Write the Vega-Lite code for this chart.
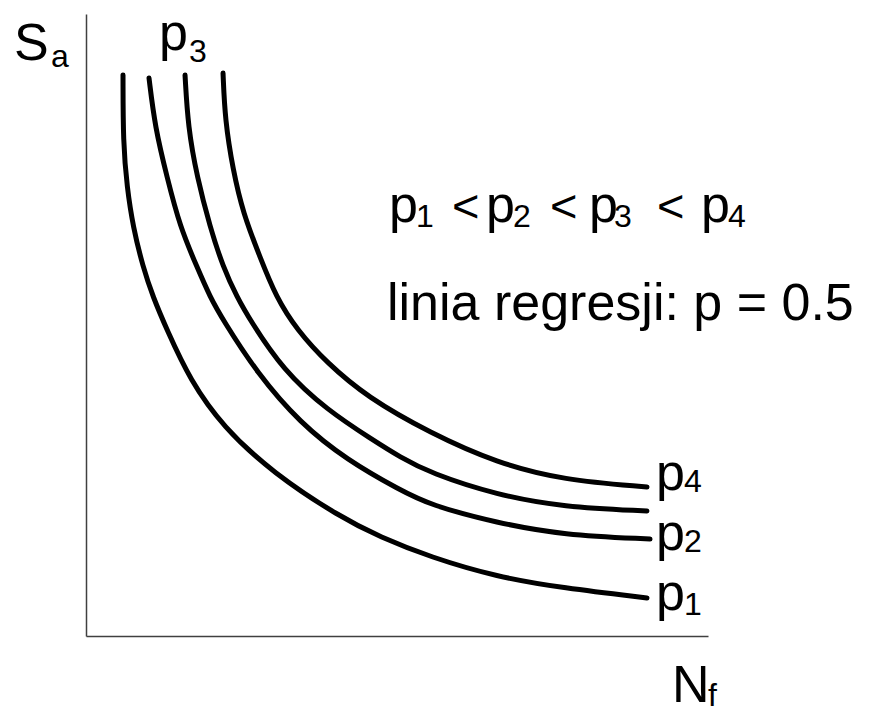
{
  "$schema": "https://vega.github.io/schema/vega-lite/v6.json",
  "autosize": {"type": "none"},
  "width": 622,
  "height": 622,
  "padding": {"left": 86, "top": 14, "right": 165, "bottom": 75},
  "background": "white",
  "config": {
    "view": {"stroke": null},
    "text": {"font": "Liberation Sans", "color": "black", "align": "left", "baseline": "alphabetic"}
  },
  "datasets": {
    "curves": [
      {"curve": "p1", "nf": 5.95, "sa": 90.19},
      {"curve": "p1", "nf": 5.97, "sa": 79.26},
      {"curve": "p1", "nf": 6.59, "sa": 72.19},
      {"curve": "p1", "nf": 7.56, "sa": 65.76},
      {"curve": "p1", "nf": 9.16, "sa": 59.32},
      {"curve": "p1", "nf": 10.77, "sa": 54.5},
      {"curve": "p1", "nf": 13.02, "sa": 49.2},
      {"curve": "p1", "nf": 16.72, "sa": 41.16},
      {"curve": "p1", "nf": 22.03, "sa": 33.6},
      {"curve": "p1", "nf": 30.06, "sa": 26.21},
      {"curve": "p1", "nf": 40.84, "sa": 19.13},
      {"curve": "p1", "nf": 47.27, "sa": 15.92},
      {"curve": "p1", "nf": 55.31, "sa": 12.7},
      {"curve": "p1", "nf": 66.08, "sa": 9.49},
      {"curve": "p1", "nf": 76.69, "sa": 7.72},
      {"curve": "p1", "nf": 90.19, "sa": 6.11},
      {"curve": "p2", "nf": 10.13, "sa": 89.71},
      {"curve": "p2", "nf": 11.09, "sa": 81.83},
      {"curve": "p2", "nf": 13.02, "sa": 73.79},
      {"curve": "p2", "nf": 15.11, "sa": 65.76},
      {"curve": "p2", "nf": 17.85, "sa": 59.32},
      {"curve": "p2", "nf": 19.94, "sa": 54.5},
      {"curve": "p2", "nf": 22.03, "sa": 50.8},
      {"curve": "p2", "nf": 27.49, "sa": 42.28},
      {"curve": "p2", "nf": 34.41, "sa": 34.24},
      {"curve": "p2", "nf": 41.96, "sa": 28.3},
      {"curve": "p2", "nf": 50.48, "sa": 23.47},
      {"curve": "p2", "nf": 55.31, "sa": 21.06},
      {"curve": "p2", "nf": 66.08, "sa": 18.17},
      {"curve": "p2", "nf": 76.69, "sa": 16.24},
      {"curve": "p2", "nf": 90.68, "sa": 15.59},
      {"curve": "p3", "nf": 15.92, "sa": 90.19},
      {"curve": "p3", "nf": 16.4, "sa": 81.83},
      {"curve": "p3", "nf": 17.85, "sa": 73.79},
      {"curve": "p3", "nf": 19.94, "sa": 65.76},
      {"curve": "p3", "nf": 22.03, "sa": 59.32},
      {"curve": "p3", "nf": 24.28, "sa": 54.5},
      {"curve": "p3", "nf": 26.37, "sa": 50.8},
      {"curve": "p3", "nf": 31.67, "sa": 42.77},
      {"curve": "p3", "nf": 38.75, "sa": 36.33},
      {"curve": "p3", "nf": 46.14, "sa": 31.51},
      {"curve": "p3", "nf": 50.48, "sa": 28.78},
      {"curve": "p3", "nf": 55.31, "sa": 26.21},
      {"curve": "p3", "nf": 66.08, "sa": 22.67},
      {"curve": "p3", "nf": 76.69, "sa": 20.74},
      {"curve": "p3", "nf": 90.19, "sa": 20.1},
      {"curve": "p4", "nf": 22.03, "sa": 90.51},
      {"curve": "p4", "nf": 22.35, "sa": 82.96},
      {"curve": "p4", "nf": 23.63, "sa": 74.92},
      {"curve": "p4", "nf": 25.24, "sa": 68.01},
      {"curve": "p4", "nf": 27.97, "sa": 60.93},
      {"curve": "p4", "nf": 30.55, "sa": 54.5},
      {"curve": "p4", "nf": 33.92, "sa": 49.2},
      {"curve": "p4", "nf": 38.75, "sa": 43.89},
      {"curve": "p4", "nf": 45.18, "sa": 38.42},
      {"curve": "p4", "nf": 55.31, "sa": 32.64},
      {"curve": "p4", "nf": 66.08, "sa": 27.81},
      {"curve": "p4", "nf": 76.69, "sa": 25.08},
      {"curve": "p4", "nf": 90.19, "sa": 23.95}
    ],
    "labels": [
      {"kind": "main", "text": "S", "nf": -11.58, "sa": 92.6},
      {"kind": "sub", "text": "a", "nf": -5.63, "sa": 91.5},
      {"kind": "main", "text": "p", "nf": 11.74, "sa": 94.2},
      {"kind": "sub", "text": "3", "nf": 16.56, "sa": 92.3},
      {"kind": "main", "text": "p", "nf": 48.71, "sa": 66.56},
      {"kind": "sub", "text": "1", "nf": 53.05, "sa": 65.76},
      {"kind": "op", "text": "<", "nf": 58.84, "sa": 66.56},
      {"kind": "main", "text": "p", "nf": 64.31, "sa": 66.56},
      {"kind": "sub", "text": "2", "nf": 68.65, "sa": 65.76},
      {"kind": "op", "text": "<", "nf": 74.6, "sa": 66.56},
      {"kind": "main", "text": "p", "nf": 80.87, "sa": 66.56},
      {"kind": "sub", "text": "3", "nf": 84.89, "sa": 65.76},
      {"kind": "op", "text": "<", "nf": 91.8, "sa": 66.56},
      {"kind": "main", "text": "p", "nf": 98.87, "sa": 66.56},
      {"kind": "sub", "text": "4", "nf": 103.21, "sa": 65.76},
      {"kind": "main", "text": "linia regresji: p = 0.5", "nf": 48.39, "sa": 50.8},
      {"kind": "main", "text": "p", "nf": 91.64, "sa": 23.47},
      {"kind": "sub", "text": "4", "nf": 96.14, "sa": 23.15},
      {"kind": "main", "text": "p", "nf": 91.64, "sa": 13.83},
      {"kind": "sub", "text": "2", "nf": 96.14, "sa": 13.5},
      {"kind": "main", "text": "p", "nf": 91.64, "sa": 4.18},
      {"kind": "sub", "text": "1", "nf": 96.14, "sa": 3.38},
      {"kind": "main", "text": "N", "nf": 94.21, "sa": -10.61},
      {"kind": "sub", "text": "f", "nf": 100.0, "sa": -11.25}
    ]
  },
  "layer": [
    {
      "data": {"name": "curves"},
      "mark": {"type": "line", "interpolate": "basis", "color": "black", "strokeWidth": 5, "strokeCap": "round"},
      "encoding": {
        "x": {
          "field": "nf", "type": "quantitative",
          "scale": {"domain": [0, 100], "nice": false, "zero": false},
          "axis": {"title": null, "labels": false, "ticks": false, "grid": false, "domainColor": "#404040", "domainWidth": 1.5}
        },
        "y": {
          "field": "sa", "type": "quantitative",
          "scale": {"domain": [0, 100], "nice": false, "zero": false},
          "axis": {"title": null, "labels": false, "ticks": false, "grid": false, "domainColor": "#404040", "domainWidth": 1.5}
        },
        "detail": {"field": "curve"}
      }
    },
    {
      "data": {"name": "labels"},
      "transform": [{"filter": "datum.kind === 'main'"}],
      "mark": {"type": "text", "fontSize": 52},
      "encoding": {
        "x": {"field": "nf", "type": "quantitative"},
        "y": {"field": "sa", "type": "quantitative"},
        "text": {"field": "text"}
      }
    },
    {
      "data": {"name": "labels"},
      "transform": [{"filter": "datum.kind === 'op'"}],
      "mark": {"type": "text", "fontSize": 47},
      "encoding": {
        "x": {"field": "nf", "type": "quantitative"},
        "y": {"field": "sa", "type": "quantitative"},
        "text": {"field": "text"}
      }
    },
    {
      "data": {"name": "labels"},
      "transform": [{"filter": "datum.kind === 'sub'"}],
      "mark": {"type": "text", "fontSize": 32},
      "encoding": {
        "x": {"field": "nf", "type": "quantitative"},
        "y": {"field": "sa", "type": "quantitative"},
        "text": {"field": "text"}
      }
    }
  ]
}
